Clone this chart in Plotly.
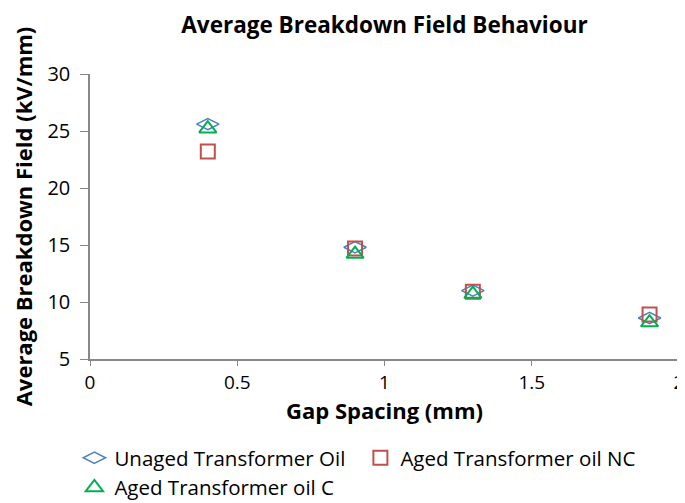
import plotly.graph_objects as go

gap_mm = [0.4, 0.9, 1.3, 1.9]
unaged = [25.6, 14.8, 11.0, 8.6]
aged_nc = [23.2, 14.7, 10.9, 8.9]
aged_c = [25.2, 14.2, 10.7, 8.2]

series_names = ["Unaged Transformer Oil", "Aged Transformer oil NC", "Aged Transformer oil C"]
x_ticks = [0, 0.5, 1, 1.5, 2]
x_tick_text = ["0", "0.5", "1", "1.5", "2"]
y_ticks = [5, 10, 15, 20, 25, 30]

FONT = "Open Sans"

fig = go.Figure()
fig.add_trace(go.Scatter(x=gap_mm, y=unaged, mode="markers", name=series_names[0],
                         marker=dict(symbol="diamond-wide-open", size=16, color="#4F81BD",
                                     line=dict(width=1.5, color="#4F81BD"))))
fig.add_trace(go.Scatter(x=gap_mm, y=aged_nc, mode="markers", name=series_names[1],
                         marker=dict(symbol="square-open", size=14, color="#C0504D",
                                     line=dict(width=2, color="#C0504D"))))
fig.add_trace(go.Scatter(x=gap_mm, y=aged_c, mode="markers", name=series_names[2],
                         marker=dict(symbol="triangle-up-open", size=15, color="#00B050",
                                     line=dict(width=2, color="#00B050"))))

fig.update_layout(
    width=685, height=503,
    margin=dict(l=82, r=14, t=66, b=152, autoexpand=False),
    paper_bgcolor="white", plot_bgcolor="white",
    font=dict(family=FONT, color="black", size=20),
    title=dict(text="<b>Average Breakdown Field Behaviour</b>", x=0.5, xref="paper", xanchor="center",
               y=0.966, yanchor="middle", font=dict(size=22.5, family=FONT)),
    xaxis=dict(range=[0, 2], tickvals=x_ticks, ticktext=x_tick_text, showgrid=False,
               zeroline=False, showline=True, linecolor="#888888", linewidth=1.5,
               ticks="outside", ticklen=5, tickcolor="#888888", automargin=False,
               title=dict(text="<b>Gap Spacing (mm)</b>", font=dict(size=22), standoff=4),
               tickfont=dict(size=19)),
    yaxis=dict(range=[5, 30], tickvals=y_ticks, showgrid=False, zeroline=False,
               showline=True, linecolor="#888888", linewidth=1.5,
               ticks="outside", ticklen=8, tickcolor="#888888", automargin=False,
               ticklabelstandoff=6,
               title=dict(text="<b>Average Breakdown Field (kV/mm)</b>", font=dict(size=22), standoff=11),
               tickfont=dict(size=20)),
    legend=dict(orientation="h", x=-0.0265, xanchor="left", y=-0.277, yanchor="top",
                entrywidth=241, font=dict(size=20.5), itemwidth=30, tracegroupgap=0),
    showlegend=True,
)

fig.write_html("out.html")
